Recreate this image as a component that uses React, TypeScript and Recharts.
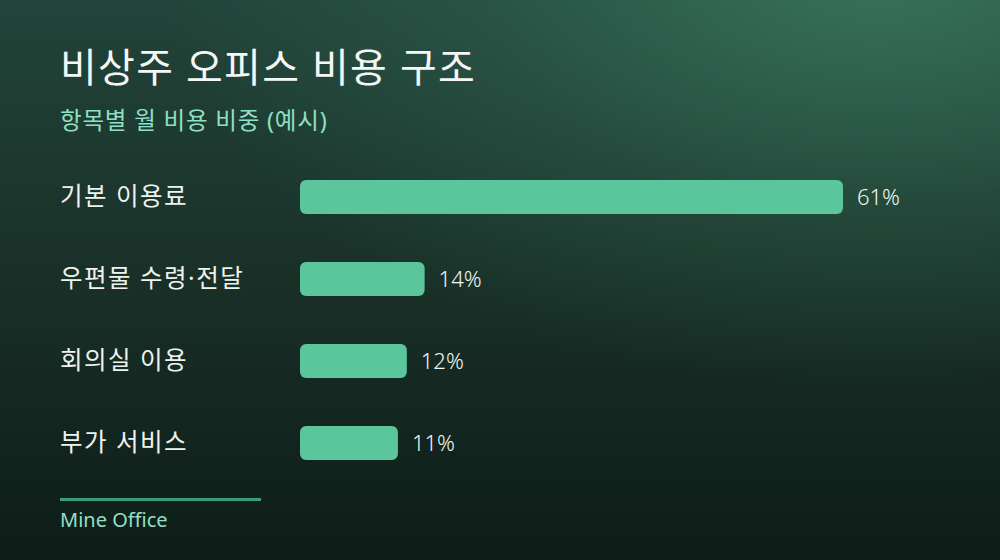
import React from "react";
import { BarChart, Bar, XAxis, YAxis, LabelList } from "recharts";

const categories = ["기본 이용료", "우편물 수령·전달", "회의실 이용", "부가 서비스"];
const shares = [61, 14, 12, 11];

const data = categories.map((name, i) => ({ name, share: shares[i] }));

const FONT = '"Noto Sans", "Noto Sans CJK JP", sans-serif';

const CategoryTick = (props: any) => {
  const { y, payload } = props;
  return (
    <text
      x={60}
      y={y}
      dy={-2}
      dominantBaseline="central"
      textAnchor="start"
      fill="#eef3f0"
      fontSize={24.5}
      fontFamily={FONT}
      style={{ letterSpacing: 1.5 }}
    >
      {payload.value}
    </text>
  );
};

export default function App() {
  return (
    <div
      style={{
        position: "absolute",
        left: 0,
        top: 0,
        width: 1000,
        height: 560,
        overflow: "hidden",
        fontFamily: FONT,
        background:
          "radial-gradient(ellipse 900px 520px at 88% -5%, rgba(62,130,102,0.75) 0%, rgba(52,110,88,0.35) 45%, rgba(30,60,50,0) 80%), linear-gradient(180deg, #22443a 0%, #1a3229 45%, #0e1c18 100%)",
      }}
    >
      <style>{`body{margin:0}`}</style>
      <div
        style={{
          position: "absolute",
          left: 60,
          top: 47,
          fontSize: 40,
          lineHeight: 1,
          fontWeight: 400,
          letterSpacing: 1.3,
          color: "#f4f7f5",
        }}
      >
        비상주 오피스 비용 구조
      </div>
      <div
        style={{
          position: "absolute",
          left: 60,
          top: 109,
          fontSize: 23.5,
          lineHeight: 1,
          letterSpacing: 0.8,
          color: "#8fe0c6",
        }}
      >
        항목별 월 비용 비중 (예시)
      </div>
      <BarChart
        width={1000}
        height={560}
        data={data}
        layout="vertical"
        margin={{ top: 156, right: 157, bottom: 76, left: 60 }}
        style={{ position: "absolute", left: 0, top: 0 }}
      >
        <XAxis type="number" domain={[0, 61]} hide />
        <YAxis
          type="category"
          dataKey="name"
          width={240}
          axisLine={false}
          tickLine={false}
          tick={<CategoryTick />}
        />
        <Bar
          dataKey="share"
          fill="#5bc69b"
          barSize={34}
          radius={6}
          isAnimationActive={false}
        >
          <LabelList
            dataKey="share"
            position="right"
            offset={14}
            formatter={(v: any) => `${v}%`}
            fill="#f2f6f3"
            fontSize={22}
            fontWeight={300}
            fontFamily={FONT}
          />
        </Bar>
      </BarChart>
      <div
        style={{
          position: "absolute",
          left: 60,
          top: 498,
          width: 201,
          height: 3,
          background: "#3e9c7c",
        }}
      />
      <div
        style={{
          position: "absolute",
          left: 60,
          top: 510,
          fontSize: 20,
          lineHeight: 1,
          color: "#8fe0c6",
        }}
      >
        Mine Office
      </div>
    </div>
  );
}
